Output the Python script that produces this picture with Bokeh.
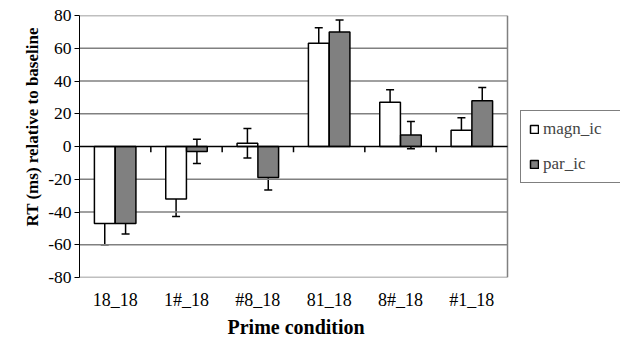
from bokeh.plotting import figure
from bokeh.models import (Range1d, FixedTicker, Whisker, ColumnDataSource, Legend,
                          LegendItem, TeeHead, Title)
from bokeh.embed import file_html
from bokeh.resources import INLINE

categories = ["18_18", "1#_18", "#8_18", "81_18", "8#_18", "#1_18"]
magn_ic = [-47, -32, 2, 63, 27, 10]
magn_err = [13, 10.8, 9, 9.5, 7.6, 7.5]
par_ic = [-47, -3, -19, 70, 7, 28]
par_err = [6.5, 7.4, 7.6, 7.3, 8.3, 8]
y_ticks = [-80, -60, -40, -20, 0, 20, 40, 60, 80]

FONT = "Liberation Serif"
BAR_W = 0.29
OFF = 0.146
N = len(categories)
# plot area spans 428 px of a 541 px frame; the rest holds the legend
X_END = N * 541 / 428

centers = [i + 0.5 for i in range(N)]
src_m = ColumnDataSource(dict(
    x=[c - OFF for c in centers], top=magn_ic,
    upper=[v + e for v, e in zip(magn_ic, magn_err)],
    lower=[v - e for v, e in zip(magn_ic, magn_err)]))
src_p = ColumnDataSource(dict(
    x=[c + OFF for c in centers], top=par_ic,
    upper=[v + e for v, e in zip(par_ic, par_err)],
    lower=[v - e for v, e in zip(par_ic, par_err)]))

p = figure(width=620, height=340, output_backend="svg", toolbar_location=None,
           x_range=Range1d(0, X_END), y_range=Range1d(y_ticks[0], y_ticks[-1]))
p.min_border_left = 79
p.min_border_top = 15
p.min_border_bottom = 62
p.min_border_right = 0
p.background_fill_color = "white"
p.border_fill_color = "white"
p.outline_line_color = None

p.xgrid.grid_line_color = None
p.ygrid.grid_line_color = None

# gridlines limited to the plot area, right border
grid_y = [t for t in y_ticks if t != 0]
p.segment(x0=[0] * len(grid_y), x1=[N] * len(grid_y), y0=grid_y, y1=grid_y,
          line_color="#808080", line_width=1.5)
p.segment(x0=[N], x1=[N], y0=[y_ticks[0]], y1=[y_ticks[-1]],
          line_color="#808080", line_width=1.5)

# y axis
p.yaxis.ticker = FixedTicker(ticks=y_ticks)
p.yaxis.major_label_overrides = {t: str(t) for t in y_ticks}
p.yaxis.major_label_text_font = FONT
p.yaxis.major_label_text_font_size = "17.5px"
p.yaxis.major_label_text_color = "black"
p.yaxis.major_label_standoff = 3
p.yaxis.major_tick_out = 5
p.yaxis.major_tick_in = 0
p.yaxis.minor_tick_line_color = None
p.yaxis.axis_line_color = "black"
p.yaxis.major_tick_line_color = "black"

p.add_layout(Title(text="RT (ms) relative to baseline", align="left", offset=51,
                   vertical_align="middle", standoff=6,
                   text_font=FONT, text_font_style="bold", text_font_size="17px",
                   text_color="black"), "left")

# x axis
p.xaxis.ticker = FixedTicker(ticks=centers)
p.xaxis.major_label_overrides = {c: lab for c, lab in zip(centers, categories)}
p.xaxis.major_label_text_font = FONT
p.xaxis.major_label_text_font_size = "18px"
p.xaxis.major_label_text_color = "black"
p.xaxis.major_label_standoff = 6
p.xaxis.major_tick_line_color = None
p.xaxis.minor_tick_line_color = None
p.xaxis.axis_line_color = None

p.add_layout(Title(text="Prime condition", align="left", offset=148,
                   vertical_align="middle", standoff=4,
                   text_font=FONT, text_font_style="bold", text_font_size="20px",
                   text_color="black"), "below")

r1 = p.vbar(x="x", top="top", bottom=0, width=BAR_W, source=src_m,
            fill_color="white", line_color="black", line_width=1.5)
r2 = p.vbar(x="x", top="top", bottom=0, width=BAR_W, source=src_p,
            fill_color="#808080", line_color="black", line_width=1.5)

# zero axis line with category boundary ticks
p.segment(x0=[0], x1=[N], y0=[0], y1=[0], line_color="black", line_width=1.5)
bounds = list(range(1, N))
p.segment(x0=bounds, x1=bounds, y0=[0] * len(bounds), y1=[-3.5] * len(bounds),
          line_color="black", line_width=1.5)

for src in (src_m, src_p):
    w = Whisker(source=src, base="x", upper="upper", lower="lower", dimension="height",
                line_color="black", line_width=1.5,
                upper_head=TeeHead(size=8, line_color="black", line_width=1.5),
                lower_head=TeeHead(size=8, line_color="black", line_width=1.5))
    p.add_layout(w)

legend = Legend(items=[LegendItem(label="magn_ic", renderers=[r1]),
                       LegendItem(label="par_ic", renderers=[r2])],
                location=(441, 94), margin=0, padding=8, spacing=15,
                glyph_width=10, glyph_height=10, label_height=20, label_width=69,
                label_standoff=4,
                label_text_font=FONT, label_text_font_size="17px",
                border_line_color="black", border_line_width=1.5,
                background_fill_color="white", background_fill_alpha=1)
p.add_layout(legend)

open("out.html", "w").write(file_html(p, INLINE))
